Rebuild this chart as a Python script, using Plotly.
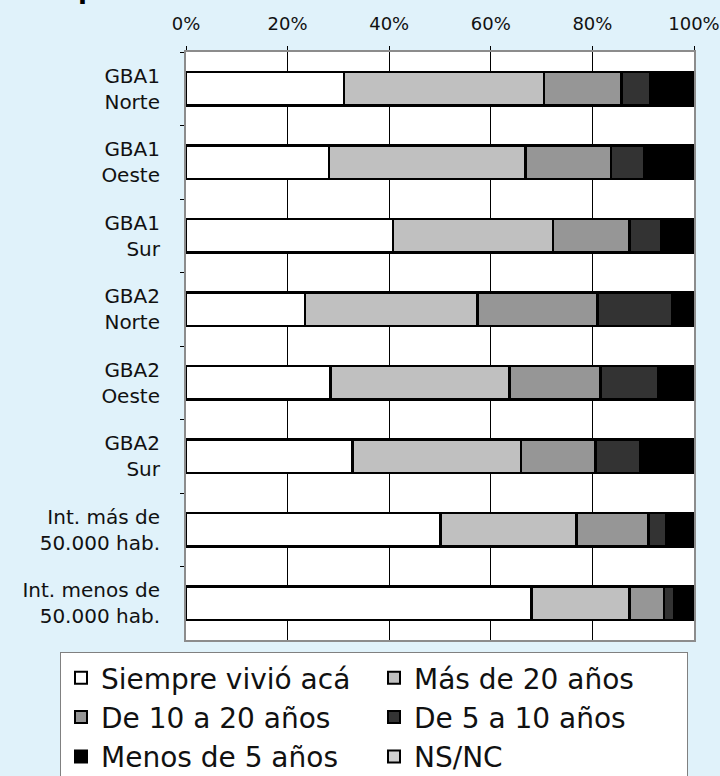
import plotly.graph_objects as go

categories = ["GBA1<br>Norte", "GBA1<br>Oeste", "GBA1<br>Sur", "GBA2<br>Norte",
              "GBA2<br>Oeste", "GBA2<br>Sur", "Int. más de<br>50.000 hab.",
              "Int. menos de<br>50.000 hab."]

series_names = ["Siempre vivió acá", "Más de 20 años", "De 10 a 20 años",
                "De 5 a 10 años", "Menos de 5 años", "NS/NC"]

siempre = [31.1, 28.1, 40.7, 23.4, 28.4, 32.8, 50.1, 68.0]
mas20 = [39.4, 38.7, 31.5, 34.0, 35.3, 33.1, 26.8, 19.3]
de10a20 = [15.2, 16.9, 15.1, 23.6, 17.9, 14.7, 14.1, 6.8]
de5a10 = [5.6, 6.5, 6.3, 14.7, 11.4, 8.8, 3.5, 2.0]
menos5 = [8.7, 9.8, 6.4, 4.3, 7.0, 10.6, 5.5, 3.9]
nsnc = [0.0, 0.0, 0.0, 0.0, 0.0, 0.0, 0.0, 0.0]

values = [siempre, mas20, de10a20, de5a10, menos5, nsnc]
colors = ["#FFFFFF", "#C0C0C0", "#969696", "#333333", "#000000", "#D0D0D0"]

x_ticks = [0, 20, 40, 60, 80, 100]
x_ticktext = ["0%", "20%", "40%", "60%", "80%", "100%"]

FONT = "DejaVu Sans, Verdana, sans-serif"

fig = go.Figure()
for name, vals, col in zip(series_names, values, colors):
    fig.add_trace(go.Bar(
        y=categories, x=vals, name=name, orientation="h",
        marker=dict(color=col, line=dict(color="#000000", width=2.5)),
    ))

fig.update_layout(
    width=720, height=776,
    barmode="stack", bargap=0.55,
    paper_bgcolor="#E0F2FA", plot_bgcolor="#FFFFFF",
    margin=dict(l=186, r=26, t=52, b=136, autoexpand=False),
    font=dict(family=FONT, color="#111111"),
    showlegend=True,
    legend=dict(
        orientation="h", x=(60 - 186) / 508, xanchor="left",
        y=(640 - 652) / 588, yanchor="top",
        bgcolor="#FFFFFF", bordercolor="#808080", borderwidth=1,
        font=dict(size=28, family=FONT, color="#111111"),
        entrywidth=268, entrywidthmode="pixels",
        traceorder="normal", itemsizing="constant",
        tracegroupgap=0,
    ),
    xaxis=dict(
        side="top", range=[0, 100], tickvals=x_ticks, ticktext=x_ticktext,
        showgrid=True, gridcolor="#000000", gridwidth=1,
        showline=True, linecolor="#8C8C8C", linewidth=2, mirror=True,
        ticks="outside", ticklen=4, tickcolor="#000000",
        tickfont=dict(size=18, family=FONT, color="#111111"),
        ticklabelstandoff=9,
        zeroline=False, fixedrange=True,
    ),
    yaxis=dict(
        autorange="reversed", type="category",
        showline=True, linecolor="#8C8C8C", linewidth=2, mirror=True,
        ticks="outside", ticklen=4, tickcolor="#000000", tickson="boundaries",
        tickfont=dict(size=20, family=FONT, color="#111111"),
        ticklabelstandoff=20,
        showgrid=False, fixedrange=True,
    ),
    annotations=[dict(
        text="<b>p</b>", xref="paper", yref="paper", x=-0.193, y=1.079,
        xanchor="center", yanchor="bottom", showarrow=False,
        font=dict(size=26, family=FONT, color="#000000"),
    )],
)

fig.write_html("out.html", config={"displayModeBar": False},
               post_script="document.body.style.margin='0px';")
